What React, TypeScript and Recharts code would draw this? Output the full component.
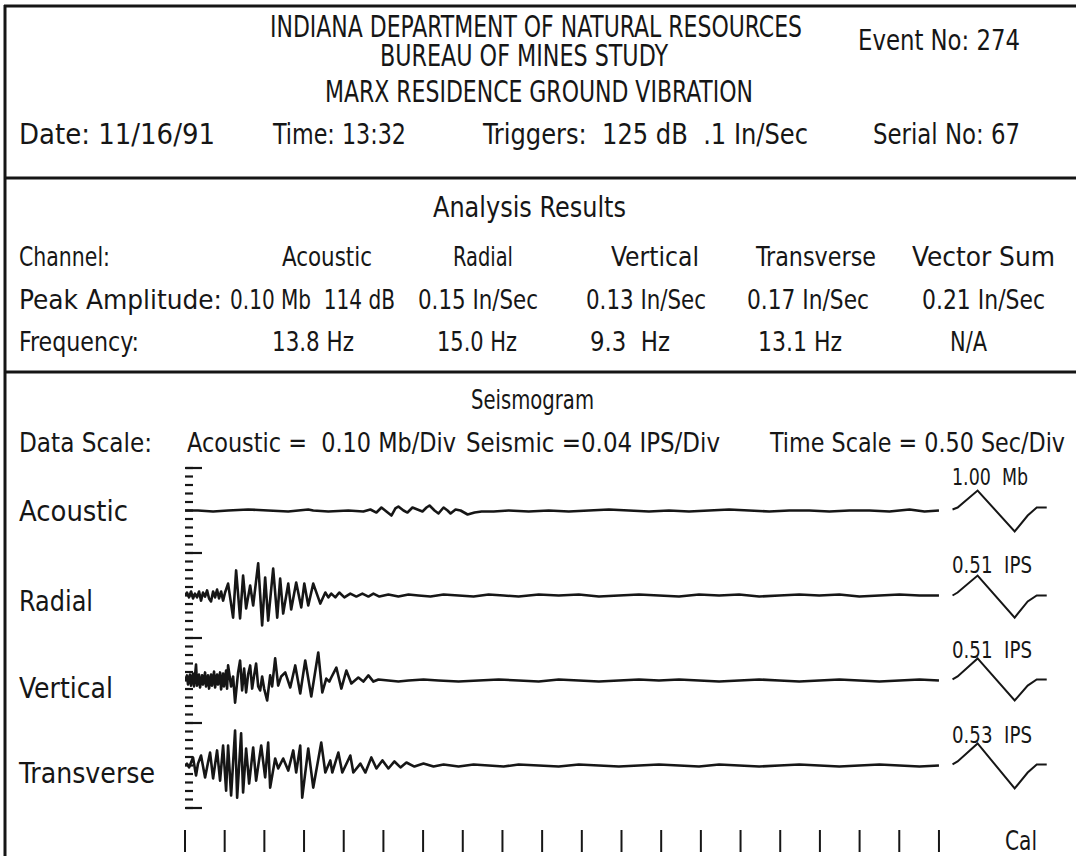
import React from "react"
import { LineChart, Line, XAxis, YAxis } from "recharts"

// Seismograph event 274 -- times in seconds after trigger,
// seismic values in in/sec, acoustic values in Mb.
const ACOUSTIC_T = [0, 0.164, 0.354, 0.543, 0.795, 1.048, 1.301, 1.553, 1.616, 1.806, 2.058, 2.247, 2.336, 2.412, 2.475, 2.538, 2.601, 2.651, 2.689, 2.753, 2.803, 2.866, 2.929, 2.992, 3.043, 3.081, 3.144, 3.194, 3.258, 3.308, 3.346, 3.409, 3.472, 3.561, 3.649, 3.737, 3.889, 4.078, 4.331, 4.583, 4.836, 5.088, 5.341, 5.593, 5.846, 6.098, 6.351, 6.603, 6.856, 7.108, 7.361, 7.614, 7.866, 8.119, 8.371, 8.624, 8.876, 9.129, 9.318, 9.5]
const ACOUSTIC_V = [0, 0, -0.012, 0, 0.012, 0, -0.012, 0.012, 0, -0.012, 0, -0.012, 0.012, -0.024, 0.035, -0.012, -0.059, 0.024, 0.047, 0, -0.024, 0.035, 0.012, -0.012, 0.035, 0.059, 0, -0.035, 0.035, 0, -0.035, 0.012, 0, -0.047, -0.024, -0.012, -0.012, 0, -0.012, 0, -0.012, 0, 0.012, 0, -0.012, 0, -0.012, 0, 0.012, 0, -0.012, 0, 0, -0.012, 0, 0, -0.012, 0.012, -0.012, 0]

const RADIAL_T = [0, 0.025, 0.051, 0.076, 0.101, 0.126, 0.152, 0.177, 0.202, 0.227, 0.253, 0.278, 0.303, 0.328, 0.354, 0.379, 0.404, 0.429, 0.455, 0.48, 0.505, 0.543, 0.606, 0.644, 0.694, 0.732, 0.77, 0.821, 0.859, 0.922, 0.972, 1.01, 1.048, 1.111, 1.162, 1.199, 1.237, 1.301, 1.338, 1.401, 1.465, 1.503, 1.553, 1.616, 1.705, 1.768, 1.806, 1.843, 1.894, 1.944, 2.008, 2.083, 2.159, 2.235, 2.311, 2.374, 2.449, 2.563, 2.689, 2.816, 2.942, 3.093, 3.258, 3.447, 3.636, 3.826, 4.015, 4.204, 4.457, 4.709, 4.962, 5.215, 5.467, 5.72, 5.972, 6.225, 6.477, 6.73, 6.982, 7.235, 7.487, 7.74, 7.992, 8.245, 8.497, 8.75, 9.002, 9.255, 9.5]
const RADIAL_V = [0, 0.014, -0.009, 0.019, -0.014, 0.009, -0.009, 0.019, -0.024, 0.014, -0.005, 0.024, -0.014, -0.028, 0.019, -0.009, 0.028, -0.014, 0.019, -0.024, 0.014, 0.056, -0.104, 0.118, -0.108, 0.094, -0.061, 0.047, -0.047, 0.151, -0.141, 0.085, -0.118, 0.127, -0.104, 0.08, -0.085, 0.056, -0.066, 0.061, -0.056, 0.056, -0.047, 0.056, -0.038, 0.014, -0.009, 0.009, -0.009, 0.014, -0.009, 0.009, -0.005, 0.009, -0.005, 0.009, -0.005, 0.005, -0.005, 0.005, 0, -0.005, 0.005, 0, -0.005, 0.005, 0, -0.005, 0.005, 0, 0.005, -0.005, 0, 0.005, 0, -0.005, 0.005, 0, 0.005, -0.005, 0, 0.005, 0, 0.005, -0.005, 0, 0.005, 0, 0]

const VERTICAL_T = [0, 0.025, 0.038, 0.063, 0.076, 0.101, 0.114, 0.139, 0.152, 0.177, 0.189, 0.215, 0.227, 0.253, 0.265, 0.29, 0.303, 0.328, 0.341, 0.366, 0.379, 0.404, 0.417, 0.442, 0.455, 0.48, 0.492, 0.518, 0.53, 0.543, 0.581, 0.606, 0.631, 0.669, 0.694, 0.72, 0.745, 0.77, 0.795, 0.821, 0.846, 0.871, 0.896, 0.922, 0.947, 0.972, 0.997, 1.035, 1.073, 1.098, 1.136, 1.174, 1.212, 1.263, 1.326, 1.389, 1.452, 1.515, 1.591, 1.679, 1.73, 1.78, 1.818, 1.843, 1.907, 1.97, 2.033, 2.096, 2.184, 2.247, 2.311, 2.374, 2.437, 2.563, 2.689, 2.816, 3.005, 3.194, 3.447, 3.699, 3.952, 4.204, 4.457, 4.709, 4.962, 5.215, 5.467, 5.72, 5.972, 6.225, 6.477, 6.73, 6.982, 7.235, 7.487, 7.74, 7.992, 8.245, 8.497, 8.75, 9.002, 9.255, 9.5]
const VERTICAL_V = [0, 0.024, -0.019, 0.028, -0.024, 0.033, -0.028, 0.075, -0.024, 0.028, -0.033, 0.024, -0.019, 0.038, -0.028, 0.024, -0.038, 0.028, -0.024, 0.042, -0.033, 0.028, -0.019, 0.038, -0.042, 0.033, -0.028, 0.047, -0.038, 0.071, -0.028, 0.019, -0.104, 0.038, 0.094, -0.047, 0.056, -0.056, 0.028, 0.071, -0.038, 0.024, 0.08, -0.028, -0.047, 0.019, -0.038, -0.094, 0.024, -0.028, 0.104, -0.024, 0.019, 0.038, -0.033, 0.071, -0.061, 0.094, -0.075, 0.132, -0.056, 0.009, -0.005, 0.014, 0.061, -0.038, 0.047, -0.014, 0.014, -0.005, 0.024, -0.005, 0.005, 0, -0.005, 0, 0.005, 0, -0.005, 0, 0.005, 0, -0.005, 0.005, 0, -0.005, 0, 0.005, 0, 0.005, 0, -0.005, 0, 0.005, 0, -0.005, 0, 0.005, 0, -0.005, 0, 0.005, 0]

const TRANSVERSE_T = [0, 0.025, 0.051, 0.076, 0.101, 0.139, 0.164, 0.202, 0.253, 0.29, 0.316, 0.354, 0.404, 0.442, 0.48, 0.518, 0.543, 0.581, 0.631, 0.657, 0.707, 0.732, 0.77, 0.808, 0.859, 0.896, 0.96, 1.01, 1.048, 1.073, 1.136, 1.174, 1.237, 1.301, 1.364, 1.401, 1.452, 1.477, 1.553, 1.616, 1.717, 1.768, 1.831, 1.856, 1.932, 1.982, 2.083, 2.121, 2.21, 2.273, 2.348, 2.412, 2.487, 2.563, 2.639, 2.715, 2.79, 2.891, 3.005, 3.131, 3.258, 3.447, 3.636, 3.826, 4.015, 4.204, 4.457, 4.709, 4.962, 5.215, 5.467, 5.72, 5.972, 6.225, 6.477, 6.73, 6.982, 7.235, 7.487, 7.74, 7.992, 8.245, 8.497, 8.75, 9.002, 9.255, 9.5]
const TRANSVERSE_V = [0, 0.009, -0.009, 0.014, 0.038, -0.047, 0.009, 0.047, -0.056, 0.014, 0.061, -0.061, 0.071, -0.071, 0.094, -0.118, 0.094, -0.141, 0.165, -0.151, 0.151, -0.127, 0.08, -0.085, 0.085, -0.071, 0.094, -0.056, 0.108, -0.104, 0.033, -0.014, 0.033, -0.024, 0.071, -0.033, 0.094, -0.151, 0.08, -0.104, 0.108, -0.033, 0.024, -0.033, 0.061, -0.033, 0.047, -0.033, 0.009, -0.033, 0.038, -0.014, 0.024, -0.014, 0.019, -0.009, 0.014, -0.005, 0.009, -0.005, 0.005, -0.005, 0.005, 0, -0.005, 0.005, 0, -0.005, 0.005, 0, -0.005, 0, 0.005, 0, -0.005, 0.005, 0, -0.005, 0, 0.005, 0, -0.005, 0, 0.005, 0, -0.005, 0]

// calibration pulses drawn after the record
const CAL_T = [9.671, 9.735, 9.987, 10.454, 10.618, 10.732, 10.858]
const ACOUSTIC_CAL = [0.012, 0.035, 0.235, -0.247, -0.059, 0.035, 0.035]
const RADIAL_CAL = [0, 0.014, 0.094, -0.104, -0.028, 0, 0]
const VERTICAL_CAL = [0.005, 0.019, 0.104, -0.094, -0.024, 0.005, 0.005]
const TRANSVERSE_CAL = [0.005, 0.019, 0.104, -0.108, -0.033, 0.005, 0.005]
const CAL_LABELS = ["1.00  Mb", "0.51  IPS", "0.51  IPS", "0.53  IPS"]

const TIME_TICKS = [0, 0.5, 1, 1.5, 2, 2.5, 3, 3.5, 4, 4.5, 5, 5.5, 6, 6.5, 7, 7.5, 8, 8.5, 9, 9.5]
const RULER_MAJOR = [0, 10, 20, 30, 40]
const RULER_MINOR = Array.from({ length: 41 }, (_, i) => i)

const TITLE_LINES = ["INDIANA DEPARTMENT OF NATURAL RESOURCES", "BUREAU OF MINES STUDY", "MARX RESIDENCE GROUND VIBRATION"]
const HEADER_FIELDS = ["Date: 11/16/91", "Time: 13:32", "Triggers:  125 dB  .1 In/Sec", "Serial No: 67"]
const CHANNELS = ["Acoustic", "Radial", "Vertical", "Transverse", "Vector Sum"]
const PEAKS = ["0.10 Mb  114 dB", "0.15 In/Sec", "0.13 In/Sec", "0.17 In/Sec", "0.21 In/Sec"]
const FREQS = ["13.8 Hz", "15.0 Hz", "9.3  Hz", "13.1 Hz", "N/A"]
const SCALES = ["Acoustic =  0.10 Mb/Div", "Seismic =0.04 IPS/Div", "Time Scale = 0.50 Sec/Div"]

const INK = "#161616"
const FONT = "'DejaVu Sans Condensed', 'Liberation Sans Narrow', 'DejaVu Sans', sans-serif"
const PX_PER_DIV = 8.5
const RULER_LOW = -22 / PX_PER_DIV
const RULER_HIGH = 40

const zip = (t: number[], v: number[]) => t.map((x, i) => ({ t: x, v: v[i] }))

function bandDomain(centerDiv: number, perDiv: number): [number, number] {
  return [(RULER_LOW - centerDiv) * perDiv, (RULER_HIGH - centerDiv) * perDiv]
}

const TRACES = [
  { id: "acoustic", t: ACOUSTIC_T, v: ACOUSTIC_V, cal: ACOUSTIC_CAL, center: 35, perDiv: 0.1 },
  { id: "radial", t: RADIAL_T, v: RADIAL_V, cal: RADIAL_CAL, center: 25, perDiv: 0.04 },
  { id: "vertical", t: VERTICAL_T, v: VERTICAL_V, cal: VERTICAL_CAL, center: 15, perDiv: 0.04 },
  { id: "transverse", t: TRANSVERSE_T, v: TRANSVERSE_V, cal: TRANSVERSE_CAL, center: 5, perDiv: 0.04 },
]

function Txt({ x, cy, w, s = 27, children }: { x: number; cy: number; w: number; s?: number; children: string }) {
  return (
    <text x={x} y={cy + s * 0.36} fontSize={s} textLength={w} lengthAdjust="spacingAndGlyphs" style={{ whiteSpace: "pre" }}>
      {children}
    </text>
  )
}

// layout
const TITLE_POS = [{ x: 270, w: 532, cy: 26 }, { x: 380, w: 288, cy: 55 }, { x: 325, w: 428, cy: 91 }]
const FIELD_POS = [{ x: 19, w: 196 }, { x: 273, w: 133 }, { x: 483, w: 325 }, { x: 873, w: 147 }]
const COL_POS = [{ x: 282, w: 90 }, { x: 453, w: 60 }, { x: 611, w: 88 }, { x: 756, w: 120 }, { x: 912, w: 143 }]
const PEAK_POS = [{ x: 230, w: 165 }, { x: 418, w: 120 }, { x: 586, w: 120 }, { x: 747, w: 122 }, { x: 922, w: 123 }]
const FREQ_POS = [{ x: 272, w: 82 }, { x: 437, w: 80 }, { x: 590, w: 80 }, { x: 758, w: 84 }, { x: 950, w: 37 }]
const SCALE_POS = [{ x: 187, w: 269 }, { x: 466, w: 254 }, { x: 770, w: 295 }]
const TRACE_LABEL_W = [109, 74, 94, 136]
const TRACE_CY = [511, 601, 688, 773]
const CAL_CY = [477, 565, 650, 735]

const hiddenTick = { fill: "none", fontSize: 1 }

export default function App() {
  return (
    <div style={{ position: "absolute", left: 0, top: 0, width: 1076, height: 856, background: "#fff", overflow: "hidden" }}>
      <div style={{ position: "absolute", left: 0, top: 0 }}>
        <LineChart width={1076} height={856} margin={{ top: 468, right: 18, bottom: 4, left: 185 }}>
          <XAxis type="number" dataKey="t" domain={[0, 11]} ticks={TIME_TICKS} interval={0} tick={hiddenTick} tickFormatter={() => ""}
            tickSize={22} height={22} axisLine={false} tickLine={{ stroke: INK, strokeWidth: 2 }} allowDataOverflow />
          <YAxis yAxisId="ruler" type="number" domain={[RULER_LOW, RULER_HIGH]} ticks={RULER_MINOR} interval={0}
            mirror width={1} tick={hiddenTick} tickFormatter={() => ""} tickSize={8} axisLine={false}
            tickLine={{ stroke: INK, strokeWidth: 2.2 }} allowDataOverflow />
          <YAxis yAxisId="rulerMajor" type="number" domain={[RULER_LOW, RULER_HIGH]} ticks={RULER_MAJOR} interval={0}
            mirror width={1} tick={hiddenTick} tickFormatter={() => ""} tickSize={16} axisLine={false}
            tickLine={{ stroke: INK, strokeWidth: 2.2 }} allowDataOverflow />
          {TRACES.map((tr) => (
            <YAxis key={tr.id} yAxisId={tr.id} type="number" domain={bandDomain(tr.center, tr.perDiv)} hide width={0} allowDataOverflow />
          ))}
          {TRACES.map((tr) => (
            <Line key={tr.id} yAxisId={tr.id} data={zip(tr.t, tr.v)} dataKey="v" type="linear" dot={false}
              stroke={INK} strokeWidth={2.6} strokeLinejoin="round" isAnimationActive={false} />
          ))}
          {TRACES.map((tr) => (
            <Line key={tr.id + "-cal"} yAxisId={tr.id} data={zip(CAL_T, tr.cal)} dataKey="v" type="linear" dot={false}
              stroke={INK} strokeWidth={2} isAnimationActive={false} />
          ))}
        </LineChart>
      </div>
      <svg width={1076} height={856} style={{ position: "absolute", left: 0, top: 0, pointerEvents: "none" }}
        fontFamily={FONT} fill={INK}>
        <g stroke={INK} strokeWidth={3}>
          <line x1={4} y1={6} x2={1076} y2={6} />
          <line x1={5} y1={5} x2={5} y2={856} />
          <line x1={4} y1={178} x2={1076} y2={178} />
          <line x1={4} y1={372} x2={1076} y2={372} />
        </g>
        {TITLE_LINES.map((s, i) => <Txt key={s} s={30} {...TITLE_POS[i]}>{s}</Txt>)}
        <Txt x={858} cy={40} w={162} s={28}>Event No: 274</Txt>
        {HEADER_FIELDS.map((s, i) => <Txt key={s} cy={134} s={29} {...FIELD_POS[i]}>{s}</Txt>)}

        <Txt x={433} cy={207} w={193} s={28}>Analysis Results</Txt>
        <Txt x={19} cy={256} w={91}>Channel:</Txt>
        {CHANNELS.map((s, i) => <Txt key={s} cy={256} {...COL_POS[i]}>{s}</Txt>)}
        <Txt x={19} cy={299} w={203}>Peak Amplitude:</Txt>
        {PEAKS.map((s, i) => <Txt key={s} cy={299} {...PEAK_POS[i]}>{s}</Txt>)}
        <Txt x={19} cy={341} w={120}>Frequency:</Txt>
        {FREQS.map((s, i) => <Txt key={s + i} cy={341} {...FREQ_POS[i]}>{s}</Txt>)}

        <Txt x={471} cy={399} w={123}>Seismogram</Txt>
        <Txt x={19} cy={442} w={133}>Data Scale:</Txt>
        {SCALES.map((s, i) => <Txt key={s} cy={442} {...SCALE_POS[i]}>{s}</Txt>)}
        {CHANNELS.slice(0, 4).map((s, i) => <Txt key={s} x={19} cy={TRACE_CY[i]} s={28} w={TRACE_LABEL_W[i]}>{s}</Txt>)}
        {CAL_LABELS.map((s, i) => <Txt key={i} x={952} cy={CAL_CY[i]} w={i === 0 ? 76 : 80} s={23}>{s}</Txt>)}
        <Txt x={1005} cy={840} w={32} s={27}>Cal</Txt>
      </svg>
    </div>
  )
}
